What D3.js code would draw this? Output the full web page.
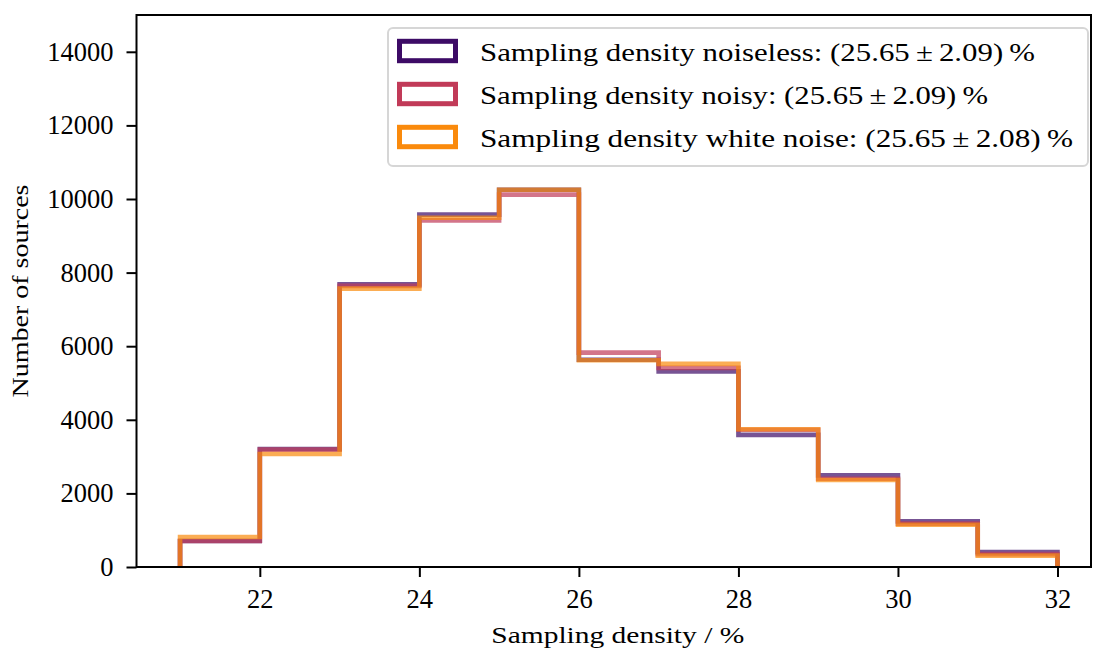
<!DOCTYPE html>
<html>
<head>
<meta charset="utf-8">
<script src="https://cdn.jsdelivr.net/npm/d3@7"></script>
<style>
  html, body { margin: 0; padding: 0; background: #fff; }
  svg { display: block; }
  text { font-family: "Liberation Serif", "Times New Roman", serif; fill: #000; }
</style>
</head>
<body>
<svg id="chart" width="1093" height="649"></svg>
<script>
// ---- data ----
const binEdges = [21, 22, 23, 24, 25, 26, 27, 28, 29, 30, 31, 32];
const noiseless  = [707, 3205, 7680, 9575, 10250, 5630, 5315, 3590, 2490, 1240, 405];
const noisy      = [705, 3190, 7640, 9420, 10120, 5825, 5410, 3730, 2400, 1180, 350];
const whiteNoise = [815, 3070, 7565, 9490, 10250, 5620, 5520, 3745, 2365, 1150, 310];
const seriesNames = [
  "Sampling density noiseless: (25.65\u2009\u00B1\u20092.09)\u2009%",
  "Sampling density noisy: (25.65\u2009\u00B1\u20092.09)\u2009%",
  "Sampling density white noise: (25.65\u2009\u00B1\u20092.08)\u2009%"
];
const seriesColors = ["#3d0b66", "#c13a58", "#fa8a0c"];
const xTicks = [22, 24, 26, 28, 30, 32];
const yTicks = [0, 2000, 4000, 6000, 8000, 10000, 12000, 14000];
const xLabel = "Sampling density / %";
const yLabel = "Number of sources";

const series = [noiseless, noisy, whiteNoise];

// ---- layout ----
const L = 136.5, R = 1091, T = 15, B = 567;
const svg = d3.select("#chart");

const x = d3.scaleLinear().domain([20.454, 32.42]).range([L, R]);
const y = d3.scaleLinear().domain([0, 15000]).range([B, T]);

// histogram steps
const line = d3.line()
  .x(d => x(d[0]))
  .y(d => y(d[1]))
  .curve(d3.curveStepAfter);

const plot = svg.append("g");
series.forEach((vals, i) => {
  const pts = [[binEdges[0], 0]];
  vals.forEach((v, j) => pts.push([binEdges[j], v]));
  pts.push([binEdges[binEdges.length - 1], 0]);
  plot.append("path")
    .attr("d", line(pts))
    .attr("fill", "none")
    .attr("stroke", seriesColors[i])
    .attr("stroke-opacity", 0.7)
    .attr("stroke-width", 4.6)
    .attr("stroke-linejoin", "miter")
    .attr("stroke-linecap", "butt");
});

// axes
const xAxis = svg.append("g")
  .attr("transform", `translate(0,${B})`)
  .call(d3.axisBottom(x).tickValues(xTicks).tickFormat(d3.format("d")).tickSize(10).tickPadding(12).tickSizeOuter(0));
const yAxis = svg.append("g")
  .attr("transform", `translate(${L},0)`)
  .call(d3.axisLeft(y).tickValues(yTicks).tickFormat(d3.format("d")).tickSize(10).tickPadding(13).tickSizeOuter(0));

[xAxis, yAxis].forEach(a => {
  a.select(".domain").remove();
  a.selectAll(".tick line").attr("stroke", "#000").attr("stroke-width", 2);
  a.selectAll(".tick text")
    .style("font-family", '"Liberation Serif", serif')
    .style("font-size", "26.5px")
    .attr("fill", "#000");
});

// spines
svg.append("rect")
  .attr("x", L).attr("y", T)
  .attr("width", R - L).attr("height", B - T)
  .attr("fill", "none").attr("stroke", "#000").attr("stroke-width", 2);

// axis labels
svg.append("text")
  .attr("x", (L + R) / 2 + 4).attr("y", 643)
  .attr("text-anchor", "middle")
  .attr("textLength", 253).attr("lengthAdjust", "spacingAndGlyphs")
  .style("font-size", "24px")
  .text(xLabel);

svg.append("text")
  .attr("transform", `translate(28,${(T + B) / 2}) rotate(-90)`)
  .attr("text-anchor", "middle")
  .attr("textLength", 213).attr("lengthAdjust", "spacingAndGlyphs")
  .style("font-size", "24px")
  .text(yLabel);

// legend
const lg = svg.append("g");
lg.append("rect")
  .attr("x", 388).attr("y", 28).attr("width", 700).attr("height", 138)
  .attr("rx", 5).attr("ry", 5)
  .attr("fill", "#fff").attr("fill-opacity", 0.8)
  .attr("stroke", "#d6d6d6").attr("stroke-width", 2);

const legendWidths = [555, 508, 593];
seriesNames.forEach((name, i) => {
  const cy = 51 + i * 43;
  lg.append("rect")
    .attr("x", 399.5).attr("y", cy - 9.7)
    .attr("width", 56).attr("height", 19.4)
    .attr("fill", "none")
    .attr("stroke", seriesColors[i])
    .attr("stroke-width", 5);
  lg.append("text")
    .attr("x", 480).attr("y", cy + 10)
    .attr("textLength", legendWidths[i]).attr("lengthAdjust", "spacingAndGlyphs")
    .style("font-size", "24.5px")
    .text(name);
});
</script>
</body>
</html>
